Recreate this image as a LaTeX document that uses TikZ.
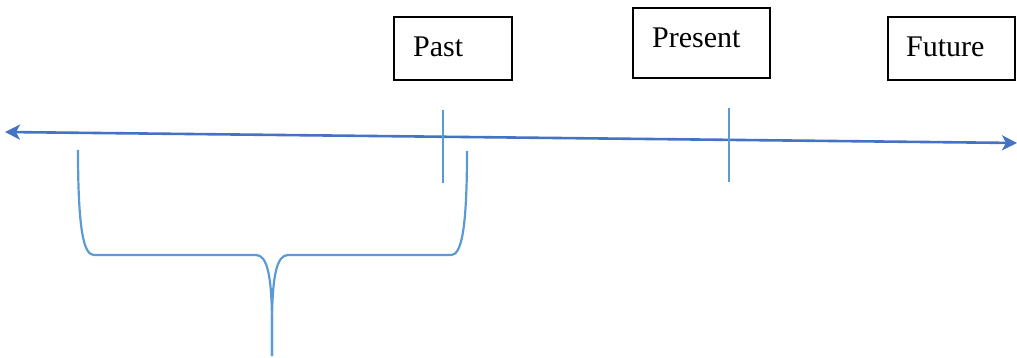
\documentclass[tikz,border=0pt]{standalone}
\usepackage{fontspec}
\setmainfont{Liberation Serif}
\usetikzlibrary{arrows.meta}
\definecolor{axisblue}{HTML}{4472C4}
\definecolor{lightblue}{HTML}{5B9BD5}
\tikzset{
  labelbox/.style={draw=black, line width=1.6pt, anchor=north west, inner sep=0pt},
  boxtext/.style={anchor=base west, inner sep=0pt, font=\fontsize{30}{34}\selectfont},
  axisline/.style={draw=axisblue, line width=2.6pt,
    {Stealth[length=15pt,width=15pt,inset=4pt]}-{Stealth[length=15pt,width=15pt,inset=4pt]}},
  tickline/.style={draw=lightblue, line width=2.6pt},
  braceline/.style={draw=lightblue, line width=2.2pt, line join=round}
}
\begin{document}
\begin{tikzpicture}[x=1pt, y=-1pt]
\useasboundingbox (0,0) rectangle (1017,358);

% labelled boxes above the axis
\node[labelbox, minimum width=118pt, minimum height=63pt] (pastbox) at (393,16) {};
\node[boxtext] (pasttxt) at (413,57) {Past};
\node[labelbox, minimum width=137pt, minimum height=70pt] (presbox) at (632,7) {};
\node[boxtext] (prestxt) at (652,48) {Present};
\node[labelbox, minimum width=127pt, minimum height=63pt] (futbox) at (887,16) {};
\node[boxtext] (futtxt) at (906,57) {Future};

% time axis
\coordinate (axL) at (5,132);
\coordinate (axR) at (1017,143);
\draw[axisline] (axL) -- (axR);

% ticks
\coordinate (pastT) at (443,110);
\coordinate (pastB) at (443,183);
\coordinate (presT) at (729,108);
\coordinate (presB) at (729,182);
\draw[tickline] (pastT) -- (pastB);
\draw[tickline] (presT) -- (presB);

% brace under the past
\coordinate (brL) at (78,150);
\coordinate (brR) at (467,151);
\coordinate (brTip) at (272,356);
\draw[braceline] (brL) .. controls (78,232) and (84,255) .. (94,255)
  -- (256,255) .. controls (267,255) and (272,275) .. (272,325) -- (brTip);
\draw[braceline] (brTip) -- (272,325) .. controls (272,275) and (277,255) .. (288,255)
  -- (451,255) .. controls (461,255) and (467,232) .. (brR);
\end{tikzpicture}
\end{document}
